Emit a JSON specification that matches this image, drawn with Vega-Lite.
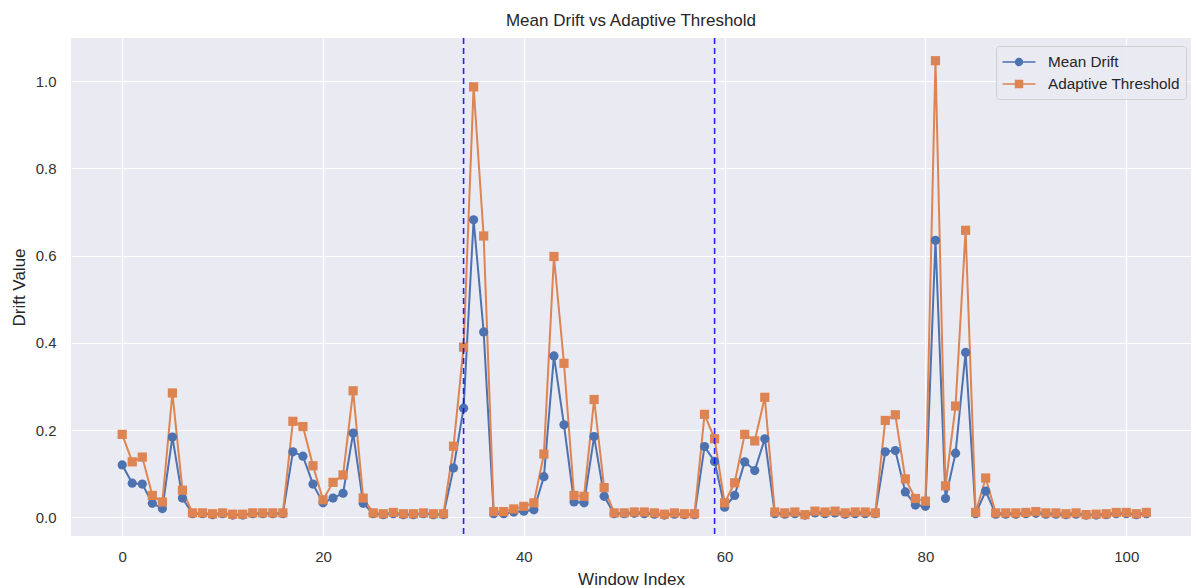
{
  "$schema": "https://vega.github.io/schema/vega-lite/v6.json",
  "autosize": {"type": "none"},
  "padding": {"left": 71, "top": 38, "right": 0, "bottom": 52},
  "width": 1120,
  "height": 498,
  "background": "white",
  "title": {"text": "Mean Drift vs Adaptive Threshold", "fontSize": 17, "font": "Liberation Sans", "fontWeight": "normal", "color": "#262626", "offset": 7, "anchor": "middle"},
  "config": {
    "view": {"fill": "#eaeaf2", "stroke": null},
    "axis": {"domain": false, "ticks": false, "gridColor": "white", "gridWidth": 1.2, "labelFont": "Liberation Sans", "labelFontSize": 15, "labelColor": "#333333", "titleFont": "Liberation Sans", "titleFontSize": 17, "titleFontWeight": "normal", "titleColor": "#262626"}
  },
  "layer": [
    {
      "data": {"values": [
        {"i":0,"Mean Drift":0.120,"Adaptive Threshold":0.190},
        {"i":1,"Mean Drift":0.078,"Adaptive Threshold":0.127},
        {"i":2,"Mean Drift":0.076,"Adaptive Threshold":0.138},
        {"i":3,"Mean Drift":0.032,"Adaptive Threshold":0.050},
        {"i":4,"Mean Drift":0.020,"Adaptive Threshold":0.035},
        {"i":5,"Mean Drift":0.184,"Adaptive Threshold":0.285},
        {"i":6,"Mean Drift":0.044,"Adaptive Threshold":0.062},
        {"i":7,"Mean Drift":0.008,"Adaptive Threshold":0.010},
        {"i":8,"Mean Drift":0.008,"Adaptive Threshold":0.010},
        {"i":9,"Mean Drift":0.006,"Adaptive Threshold":0.008},
        {"i":10,"Mean Drift":0.008,"Adaptive Threshold":0.010},
        {"i":11,"Mean Drift":0.005,"Adaptive Threshold":0.007},
        {"i":12,"Mean Drift":0.005,"Adaptive Threshold":0.007},
        {"i":13,"Mean Drift":0.008,"Adaptive Threshold":0.010},
        {"i":14,"Mean Drift":0.008,"Adaptive Threshold":0.010},
        {"i":15,"Mean Drift":0.008,"Adaptive Threshold":0.010},
        {"i":16,"Mean Drift":0.008,"Adaptive Threshold":0.010},
        {"i":17,"Mean Drift":0.150,"Adaptive Threshold":0.220},
        {"i":18,"Mean Drift":0.140,"Adaptive Threshold":0.208},
        {"i":19,"Mean Drift":0.076,"Adaptive Threshold":0.118},
        {"i":20,"Mean Drift":0.033,"Adaptive Threshold":0.040},
        {"i":21,"Mean Drift":0.044,"Adaptive Threshold":0.080},
        {"i":22,"Mean Drift":0.055,"Adaptive Threshold":0.097},
        {"i":23,"Mean Drift":0.193,"Adaptive Threshold":0.290},
        {"i":24,"Mean Drift":0.032,"Adaptive Threshold":0.044},
        {"i":25,"Mean Drift":0.008,"Adaptive Threshold":0.010},
        {"i":26,"Mean Drift":0.006,"Adaptive Threshold":0.008},
        {"i":27,"Mean Drift":0.008,"Adaptive Threshold":0.011},
        {"i":28,"Mean Drift":0.006,"Adaptive Threshold":0.008},
        {"i":29,"Mean Drift":0.006,"Adaptive Threshold":0.008},
        {"i":30,"Mean Drift":0.008,"Adaptive Threshold":0.010},
        {"i":31,"Mean Drift":0.006,"Adaptive Threshold":0.008},
        {"i":32,"Mean Drift":0.006,"Adaptive Threshold":0.008},
        {"i":33,"Mean Drift":0.113,"Adaptive Threshold":0.163},
        {"i":34,"Mean Drift":0.250,"Adaptive Threshold":0.390},
        {"i":35,"Mean Drift":0.682,"Adaptive Threshold":0.987},
        {"i":36,"Mean Drift":0.425,"Adaptive Threshold":0.645},
        {"i":37,"Mean Drift":0.008,"Adaptive Threshold":0.013},
        {"i":38,"Mean Drift":0.008,"Adaptive Threshold":0.013},
        {"i":39,"Mean Drift":0.012,"Adaptive Threshold":0.019},
        {"i":40,"Mean Drift":0.014,"Adaptive Threshold":0.025},
        {"i":41,"Mean Drift":0.017,"Adaptive Threshold":0.033},
        {"i":42,"Mean Drift":0.093,"Adaptive Threshold":0.145},
        {"i":43,"Mean Drift":0.370,"Adaptive Threshold":0.598},
        {"i":44,"Mean Drift":0.212,"Adaptive Threshold":0.353},
        {"i":45,"Mean Drift":0.035,"Adaptive Threshold":0.050},
        {"i":46,"Mean Drift":0.033,"Adaptive Threshold":0.048},
        {"i":47,"Mean Drift":0.185,"Adaptive Threshold":0.270},
        {"i":48,"Mean Drift":0.048,"Adaptive Threshold":0.068},
        {"i":49,"Mean Drift":0.008,"Adaptive Threshold":0.010},
        {"i":50,"Mean Drift":0.008,"Adaptive Threshold":0.010},
        {"i":51,"Mean Drift":0.009,"Adaptive Threshold":0.012},
        {"i":52,"Mean Drift":0.008,"Adaptive Threshold":0.012},
        {"i":53,"Mean Drift":0.007,"Adaptive Threshold":0.010},
        {"i":54,"Mean Drift":0.005,"Adaptive Threshold":0.007},
        {"i":55,"Mean Drift":0.007,"Adaptive Threshold":0.010},
        {"i":56,"Mean Drift":0.006,"Adaptive Threshold":0.008},
        {"i":57,"Mean Drift":0.006,"Adaptive Threshold":0.008},
        {"i":58,"Mean Drift":0.162,"Adaptive Threshold":0.236},
        {"i":59,"Mean Drift":0.128,"Adaptive Threshold":0.180},
        {"i":60,"Mean Drift":0.023,"Adaptive Threshold":0.033},
        {"i":61,"Mean Drift":0.050,"Adaptive Threshold":0.079},
        {"i":62,"Mean Drift":0.127,"Adaptive Threshold":0.190},
        {"i":63,"Mean Drift":0.107,"Adaptive Threshold":0.175},
        {"i":64,"Mean Drift":0.180,"Adaptive Threshold":0.275},
        {"i":65,"Mean Drift":0.008,"Adaptive Threshold":0.012},
        {"i":66,"Mean Drift":0.007,"Adaptive Threshold":0.010},
        {"i":67,"Mean Drift":0.008,"Adaptive Threshold":0.012},
        {"i":68,"Mean Drift":0.005,"Adaptive Threshold":0.006},
        {"i":69,"Mean Drift":0.010,"Adaptive Threshold":0.014},
        {"i":70,"Mean Drift":0.008,"Adaptive Threshold":0.012},
        {"i":71,"Mean Drift":0.010,"Adaptive Threshold":0.014},
        {"i":72,"Mean Drift":0.007,"Adaptive Threshold":0.010},
        {"i":73,"Mean Drift":0.008,"Adaptive Threshold":0.012},
        {"i":74,"Mean Drift":0.008,"Adaptive Threshold":0.012},
        {"i":75,"Mean Drift":0.008,"Adaptive Threshold":0.010},
        {"i":76,"Mean Drift":0.150,"Adaptive Threshold":0.222},
        {"i":77,"Mean Drift":0.153,"Adaptive Threshold":0.235},
        {"i":78,"Mean Drift":0.058,"Adaptive Threshold":0.088},
        {"i":79,"Mean Drift":0.028,"Adaptive Threshold":0.043},
        {"i":80,"Mean Drift":0.025,"Adaptive Threshold":0.037},
        {"i":81,"Mean Drift":0.635,"Adaptive Threshold":1.047},
        {"i":82,"Mean Drift":0.043,"Adaptive Threshold":0.072},
        {"i":83,"Mean Drift":0.147,"Adaptive Threshold":0.255},
        {"i":84,"Mean Drift":0.378,"Adaptive Threshold":0.658},
        {"i":85,"Mean Drift":0.008,"Adaptive Threshold":0.011},
        {"i":86,"Mean Drift":0.060,"Adaptive Threshold":0.090},
        {"i":87,"Mean Drift":0.007,"Adaptive Threshold":0.010},
        {"i":88,"Mean Drift":0.007,"Adaptive Threshold":0.010},
        {"i":89,"Mean Drift":0.007,"Adaptive Threshold":0.010},
        {"i":90,"Mean Drift":0.008,"Adaptive Threshold":0.011},
        {"i":91,"Mean Drift":0.009,"Adaptive Threshold":0.013},
        {"i":92,"Mean Drift":0.007,"Adaptive Threshold":0.010},
        {"i":93,"Mean Drift":0.007,"Adaptive Threshold":0.010},
        {"i":94,"Mean Drift":0.006,"Adaptive Threshold":0.008},
        {"i":95,"Mean Drift":0.007,"Adaptive Threshold":0.010},
        {"i":96,"Mean Drift":0.005,"Adaptive Threshold":0.006},
        {"i":97,"Mean Drift":0.005,"Adaptive Threshold":0.007},
        {"i":98,"Mean Drift":0.006,"Adaptive Threshold":0.008},
        {"i":99,"Mean Drift":0.008,"Adaptive Threshold":0.011},
        {"i":100,"Mean Drift":0.008,"Adaptive Threshold":0.011},
        {"i":101,"Mean Drift":0.006,"Adaptive Threshold":0.008},
        {"i":102,"Mean Drift":0.008,"Adaptive Threshold":0.011}
      ]},
      "transform": [{"fold": ["Mean Drift", "Adaptive Threshold"], "as": ["series", "value"]}],
      "encoding": {
        "x": {"field": "i", "type": "quantitative", "scale": {"domain": [-5.1, 106.45], "nice": false, "zero": false},
              "axis": {"values": [0, 20, 40, 60, 80, 100], "title": "Window Index", "labelPadding": 13, "titlePadding": 7, "format": "d"}},
        "y": {"field": "value", "type": "quantitative", "scale": {"domain": [-0.043, 1.099], "nice": false, "zero": false},
              "axis": {"values": [0, 0.2, 0.4, 0.6, 0.8, 1.0], "format": ".1f", "title": "Drift Value", "labelPadding": 15, "titlePadding": 7}},
        "color": {"field": "series", "type": "nominal", "scale": {"domain": ["Mean Drift", "Adaptive Threshold"], "range": ["#4c72b0", "#dd8452"]},
                  "legend": {"title": null, "orient": "none", "legendX": 925, "legendY": 8,
                             "labelFont": "Liberation Sans", "labelFontSize": 15.3, "labelColor": "#262626",
                             "symbolSize": 400, "symbolOffset": 7, "labelOffset": 19, "rowPadding": 3, "padding": 6,
                             "fillColor": "rgba(234,234,242,0.85)", "strokeColor": "#cfcfcf", "cornerRadius": 3,
                             "encode": {"symbols": {"update": {
                               "shape": {"signal": "datum.value === 'Mean Drift' ? 'M-1.65,-0.08H1.65V0.08H-1.65Z M0.42,0A0.42,0.42,0,1,1,-0.42,0A0.42,0.42,0,1,1,0.42,0Z' : 'M-1.65,-0.08H1.65V0.08H-1.65Z M-0.42,-0.42H0.42V0.42H-0.42Z'"},
                               "fill": {"signal": "datum.value === 'Mean Drift' ? '#4c72b0' : '#dd8452'"},
                               "strokeWidth": {"value": 0},
                               "opacity": {"value": 1}
                             }}}}},
        "order": {"field": "i", "type": "quantitative"}
      },
      "layer": [
        {"mark": {"type": "line", "strokeWidth": 2}},
        {"mark": {"type": "point", "filled": true, "opacity": 1},
         "encoding": {"shape": {"condition": {"test": "datum.series === 'Mean Drift'", "value": "circle"}, "value": "square"},
                      "size": {"value": 85}}}
      ]
    },
    {
      "data": {"values": [{"cp": 34}, {"cp": 59}]},
      "mark": {"type": "rule", "color": "#0000ff", "strokeDash": [6, 4], "strokeWidth": 1.6, "opacity": 0.85},
      "encoding": {"x": {"field": "cp", "type": "quantitative"}}
    }
  ]
}
